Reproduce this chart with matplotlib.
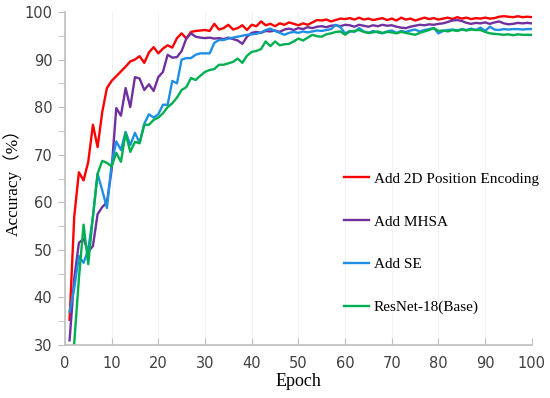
import matplotlib.pyplot as plt
from matplotlib.ticker import MultipleLocator
import numpy as np

epochs = np.arange(1, 101)

# accuracy (%) per epoch
acc_pos = [35.3, 57, 66.3, 64.6, 68.5, 76.3, 71.6, 79, 84, 85.5,
           86.5, 87.5, 88.5, 89.6, 90, 90.7, 89.3, 91.5, 92.6, 91.3,
           92.3, 93, 92.5, 94.5, 95.5, 94.4, 95.8, 96, 96.1, 96.2,
           96, 97.5, 96.3, 96.6, 97.3, 96.3, 96.6, 97.2, 96.2, 97.3,
           97, 98, 97.2, 97.5, 97, 97.6, 97.3, 97.8, 97.5, 97.2,
           97.6, 97.3, 97.8, 98.3, 98.2, 98.4, 98, 98.3, 98.6, 98.5,
           98.7, 98.4, 98.8, 98.4, 98.6, 98.3, 98.5, 98.7, 98.3, 98.6,
           98.2, 98.8, 98.4, 98.6, 98.2, 98.5, 98.8, 98.5, 98.7, 98.4,
           98.6, 98.8, 98.5, 98.9, 98.6, 98.8, 98.5, 98.7, 98.6, 98.8,
           98.6, 98.7, 99, 99.1, 99, 98.9, 99.1, 98.9, 99, 98.9]

acc_mhsa = [31, 44, 51.5, 52.3, 49.6, 50.8, 57.5, 59, 60, 66.8,
            79.8, 78.2, 84, 80, 86.3, 86, 83.6, 84.8, 83.4, 86.3,
            87.4, 91, 90.4, 90.5, 91.8, 94.4, 95.5, 94.8, 94.6, 94.5,
            94.6, 94.4, 94.5, 94.3, 94.6, 94.3, 94, 93.3, 94.8, 95.6,
            95.8, 95.6, 96, 95.9, 96.1, 95.8, 96.3, 96.5, 96.2, 96.6,
            96.4, 96.8, 96.6, 96.9, 97, 96.8, 97.1, 97.2, 97, 97.3,
            97.2, 96.9, 97.3, 97.1, 96.9, 97.2, 97, 97.3, 97.1, 97.2,
            96.9, 96.7, 96.6, 96.9, 97.1, 97.3, 97.2, 97.4, 97.3, 97.5,
            97.6, 97.9, 98.2, 98.3, 98.1, 97.7, 97.5, 97.7, 97.6, 97.8,
            97.5, 97.8, 98, 97.6, 97.4, 97.5, 97.7, 97.6, 97.7, 97.6]

acc_se = [37, 42, 48.7, 47.3, 50, 57, 66, 62.5, 58.8, 68,
          72.8, 71, 74.8, 72, 74.6, 72.5, 76.5, 78.5, 77.8, 78.5,
          80.5, 80.5, 85.5, 85, 90, 90.3, 90.3, 91, 91.3, 91.3,
          91.3, 93.5, 94.1, 94.1, 94.4, 94.6, 94.8, 95, 95.2, 95.3,
          95.4, 95.7, 96.2, 96.5, 96, 95.6, 95.2, 95.6, 95.8, 95.6,
          95.9, 95.7, 95.9, 96.1, 96, 96.2, 96.4, 97.3, 96.8, 95.5,
          96, 95.8, 96.6, 95.9, 95.6, 96, 95.7, 95.5, 95.9, 96.1,
          95.6, 96, 95.8, 96.1, 96.3, 95.9, 96.2, 96.4, 96.6, 95.5,
          96, 96.2, 96.3, 96.1, 96.4, 96.2, 96.5, 96.2, 96.7, 96,
          96.9, 96.3, 96.2, 96.4, 96.3, 96.4, 96.4, 96.3, 96.4, 96.4]

acc_base = [25, 30.5, 44, 55.3, 47, 57, 66, 68.7, 68.3, 67.5,
            70.4, 68.5, 74.5, 70.6, 72.7, 72.4, 76.3, 76.3, 77.3, 77.8,
            78.7, 80, 80.8, 82, 83.6, 84.2, 86.1, 85.7, 86.6, 87.4,
            87.8, 88, 88.9, 88.9, 89.2, 89.5, 90.2, 89.3, 90.8, 91.6,
            91.8, 92.2, 93.8, 92.8, 93.8, 93, 93.2, 93.3, 93.8, 94.4,
            94, 94.6, 95.2, 94.9, 94.8, 95.3, 95.5, 95.8, 95.9, 95.2,
            95.9, 96, 96.2, 95.8, 95.6, 95.7, 95.9, 95.6, 95.8, 95.7,
            95.5, 95.8, 95.6, 95.4, 95.2, 95.6, 95.9, 96.2, 96.6, 96,
            96.1, 95.9, 96.2, 96, 96.3, 96.1, 96.3, 96.2, 96.2, 95.8,
            95.5, 95.4, 95.3, 95.2, 95.3, 95.1, 95.3, 95.2, 95.2, 95.2]

labels = ["Add 2D Position Encoding", "Add MHSA", "Add SE", "ResNet-18(Base)"]
colors = ["#ff0000", "#7030a0", "#1f8fe6", "#00b050"]

fig = plt.figure(figsize=(5.5, 3.98), dpi=100)
ax = fig.add_axes([0.118, 0.133, 0.849, 0.837])

for ys, lab, c in zip([acc_pos, acc_mhsa, acc_se, acc_base], labels, colors):
    ax.plot(epochs, ys, color=c, linewidth=1.7, label=lab)

ax.set_xlim(0, 100)
ax.set_ylim(30, 100)
ax.xaxis.set_major_locator(MultipleLocator(10))
ax.yaxis.set_major_locator(MultipleLocator(10))
ax.yaxis.set_minor_locator(MultipleLocator(5))

for s in ["top", "right"]:
    ax.spines[s].set_visible(False)
for s in ["left", "bottom"]:
    ax.spines[s].set_color("#bfbfbf")
    ax.spines[s].set_linewidth(1.2)

ax.tick_params(axis="y", which="both", direction="out", length=5,
               color="#bfbfbf", labelsize=10.5, labelcolor="#404040", pad=4)
ax.tick_params(axis="x", direction="in", length=5, color="#bfbfbf",
               labelsize=10.5, labelcolor="#404040", pad=8)
ax.grid(axis="x", color="#f2f2f2", linewidth=0.8)

serif = ["Liberation Serif", "Noto Sans CJK SC"]
ax.set_xlabel("Epoch", family=serif, fontsize=13, labelpad=1)
ax.set_ylabel("Accuracy（%）", family=serif, fontsize=12.5, labelpad=2)

leg = ax.legend(loc="upper left", bbox_to_anchor=(338 / 550, 1 - 166 / 398),
                bbox_transform=fig.transFigure, frameon=False,
                prop={"family": "Liberation Serif", "size": 11},
                handlelength=1.6, handletextpad=0.35, labelspacing=1.9,
                borderaxespad=0)

fig.savefig("out.png", dpi=100)
